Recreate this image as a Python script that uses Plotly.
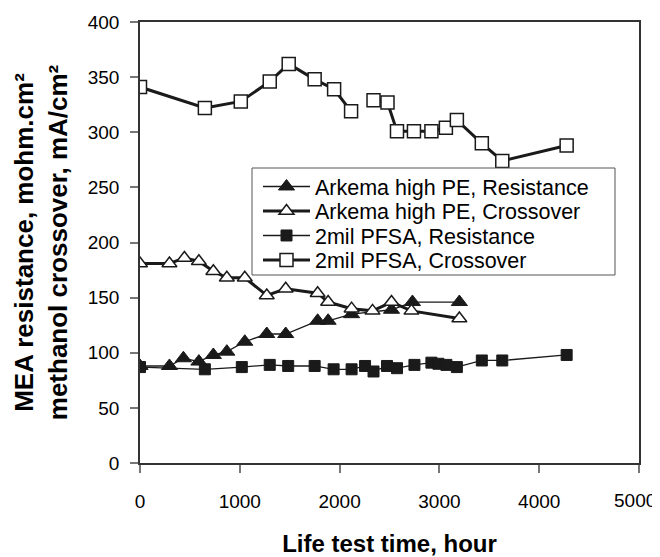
import plotly.graph_objects as go

# Arkema high PE, Resistance
ark_res_x = [0, 295, 435, 590, 735, 870, 1050, 1270, 1460, 1780, 1885, 2120, 2520, 2730, 3200]
ark_res_y = [88, 88, 95, 92, 98, 101, 110, 117, 117, 129, 129, 135, 139, 146, 146]

# Arkema high PE, Crossover
ark_cross_x = [0, 295, 445, 590, 735, 870, 1050, 1270, 1460, 1780, 1885, 2120, 2330, 2520, 2720, 3200]
ark_cross_y = [181, 181, 186, 183, 174, 168, 168, 152, 158, 154, 146, 140, 138, 146, 138, 131]

# 2mil PFSA, Resistance
pfsa_res_x = [0, 650, 1020, 1300, 1485, 1750, 1940, 2120, 2255, 2340, 2475, 2575, 2750, 2920, 2990, 3070, 3175, 3425, 3630, 4275]
pfsa_res_y = [87, 85, 87, 89, 88, 88, 85, 85, 88, 83, 88, 86, 89, 91, 90, 89, 87, 93, 93, 98]

# 2mil PFSA, Crossover (gap after 2115 h)
pfsa_cross_x = [0, 650, 1010, 1300, 1490, 1750, 1945, 2115, 2230, 2340, 2480, 2575, 2745, 2920, 3065, 3175, 3425, 3630, 4275]
pfsa_cross_y = [341, 322, 328, 346, 362, 348, 339, 319, None, 329, 327, 301, 301, 301, 304, 311, 290, 274, 288]

series_names = ["Arkema high PE, Resistance", "Arkema high PE, Crossover",
                "2mil PFSA, Resistance", "2mil PFSA, Crossover"]

x_ticks = [0, 1000, 2000, 3000, 4000, 5000]
y_ticks = [0, 50, 100, 150, 200, 250, 300, 350, 400]

INK = "#1a1a1a"
FONT = "Arial, Liberation Sans, sans-serif"

fig = go.Figure()
fig.add_trace(go.Scatter(
    x=ark_res_x, y=ark_res_y, mode="lines+markers",
    name=series_names[0], legend="legend",
    line=dict(color=INK, width=1.3),
    marker=dict(symbol="triangle-up", size=14, color=INK, line=dict(color=INK, width=1)),
))
fig.add_trace(go.Scatter(
    x=ark_cross_x, y=ark_cross_y, mode="lines+markers",
    name=series_names[1], legend="legend2",
    line=dict(color=INK, width=3),
    marker=dict(symbol="triangle-up", size=13, color="white", line=dict(color=INK, width=1.5)),
))
fig.add_trace(go.Scatter(
    x=pfsa_res_x, y=pfsa_res_y, mode="lines+markers",
    name=series_names[2], legend="legend3",
    line=dict(color=INK, width=1.3),
    marker=dict(symbol="square", size=11, color=INK, line=dict(color=INK, width=1)),
))
fig.add_trace(go.Scatter(
    x=pfsa_cross_x, y=pfsa_cross_y, mode="lines+markers",
    name=series_names[3], legend="legend4",
    connectgaps=False,
    line=dict(color=INK, width=3),
    marker=dict(symbol="square", size=13, color="white", line=dict(color=INK, width=1.5)),
))

# page has an 8 px body margin; plot area target in page px: x 140..639, y 22..463
OFF = 8
W, H = 652, 549
L, T = 140 - OFF, 22 - OFF
PW, PH = 499, 441

def px_x(p):
    return (p - 140) / PW

def px_y(p):
    return (463 - p) / PH

# the last x label is drawn as a right-anchored annotation so it stays inside the page
x_ticktext = [str(v) for v in x_ticks[:-1]] + [""]

row_centres = [186.5, 211, 235.5, 260]
legend_common = dict(
    xanchor="left", yanchor="middle",
    bgcolor="rgba(0,0,0,0)", borderwidth=0,
    font=dict(family=FONT, size=21.5, color="black"),
    itemwidth=47,
)
legend_layout = {}
for i, rc in enumerate(row_centres):
    key = "legend" if i == 0 else f"legend{i+1}"
    legend_layout[key] = dict(x=px_x(258), y=px_y(rc), **legend_common)

fig.update_layout(
    width=W, height=H,
    margin=dict(l=L, r=W - L - PW, t=T, b=H - T - PH, autoexpand=False),
    paper_bgcolor="white", plot_bgcolor="white",
    font=dict(family=FONT, color="black", size=19),
    showlegend=True,
    shapes=[dict(
        type="rect", xref="paper", yref="paper",
        x0=px_x(252), x1=px_x(615), y0=px_y(275), y1=px_y(168),
        line=dict(color="#555555", width=1), fillcolor="white", layer="above",
    )],
    annotations=[dict(
        text=str(x_ticks[-1]), x=x_ticks[-1], xref="x", y=0, yref="paper",
        xanchor="right", yanchor="middle", xshift=19, yshift=-37,
        showarrow=False, font=dict(family=FONT, size=19, color="black"),
    )],
    xaxis=dict(
        range=[0, 5000], tickvals=x_ticks, ticktext=x_ticktext,
        showgrid=False, zeroline=False, automargin=False,
        showline=True, linecolor="#333333", linewidth=1.5, mirror=True,
        ticks="outside", ticklen=8, tickcolor="#777777", tickwidth=1.5,
        tickfont=dict(family=FONT, size=19, color="black"),
        ticklabelstandoff=12,
        title=dict(text="<b>Life test time, hour</b>",
                   font=dict(family=FONT, size=24, color="black"), standoff=28),
    ),
    yaxis=dict(
        range=[0, 400], tickvals=y_ticks, ticktext=[str(v) for v in y_ticks],
        showgrid=False, zeroline=False, automargin=False,
        showline=True, linecolor="#333333", linewidth=1.5, mirror=True,
        ticks="outside", ticklen=8, tickcolor="#777777", tickwidth=1.5,
        tickfont=dict(family=FONT, size=19, color="black"),
        ticklabelstandoff=7,
        title=dict(text="<b>MEA resistance, mohm.cm²<br>methanol crossover, mA/cm²</b>",
                   font=dict(family=FONT, size=26, color="black"), standoff=13),
    ),
    **legend_layout,
)

fig.write_html("out.html")
